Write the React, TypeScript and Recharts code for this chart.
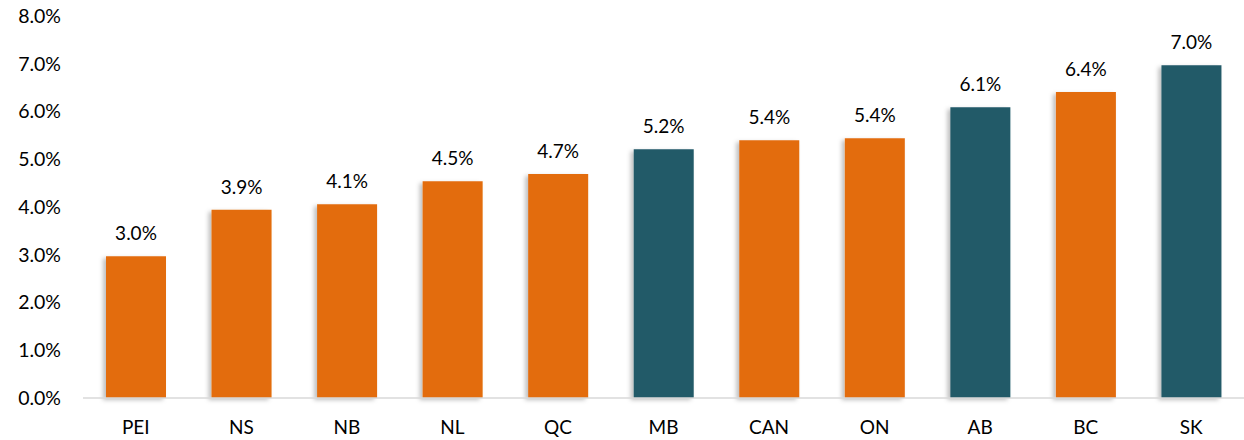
import React from 'react';
import { BarChart, Bar, XAxis, YAxis, Cell, LabelList } from 'recharts';

const provinces = ['PEI', 'NS', 'NB', 'NL', 'QC', 'MB', 'CAN', 'ON', 'AB', 'BC', 'SK'];
const rates = [2.97, 3.94, 4.06, 4.54, 4.69, 5.21, 5.40, 5.44, 6.09, 6.41, 6.97];
const highlighted = ['MB', 'AB', 'SK'];
const yTicks = [0, 1, 2, 3, 4, 5, 6, 7, 8];

const ORANGE = '#E36C0A';
const TEAL = '#235A68';
const FONT = 'Lato, "Open Sans", sans-serif';

const data = provinces.map((p, i) => ({ name: p, value: rates[i] }));

export default function App() {
  return (
    <div style={{ position: 'absolute', top: 0, left: 0, width: 1244, height: 440, background: '#fff' }}>
      <BarChart
        width={1244}
        height={440}
        data={data}
        margin={{ top: 16, right: 0, bottom: 0, left: 0 }}
        barSize={60}
      >
        <defs>
          <filter id="barShadow" x="-20%" y="-5%" width="140%" height="110%">
            <feDropShadow dx="-3" dy="2" stdDeviation="2" floodColor="#000" floodOpacity="0.25" />
          </filter>
        </defs>
        <XAxis
          dataKey="name"
          height={42}
          tickLine={false}
          axisLine={{ stroke: '#D9D9D9', strokeWidth: 1.5 }}
          tickMargin={17}
          tick={{ fill: '#000', fontSize: 19, fontFamily: FONT }}
          interval={0}
        />
        <YAxis
          width={83}
          domain={[0, 8]}
          ticks={yTicks}
          axisLine={false}
          tickLine={false}
          tickSize={0}
          tickMargin={22}
          tickFormatter={(v: number) => v.toFixed(1) + '%'}
          tick={{ fill: '#000', fontSize: 19.5, fontFamily: FONT }}
        />
        <Bar dataKey="value" isAnimationActive={false} filter="url(#barShadow)">
          {data.map((d) => (
            <Cell key={d.name} fill={highlighted.includes(d.name) ? TEAL : ORANGE} />
          ))}
          <LabelList
            dataKey="value"
            position="top"
            offset={16}
            formatter={(v: any) => Number(v).toFixed(1) + '%'}
            style={{ fill: '#000', fontSize: 19, fontFamily: FONT }}
          />
        </Bar>
      </BarChart>
    </div>
  );
}
